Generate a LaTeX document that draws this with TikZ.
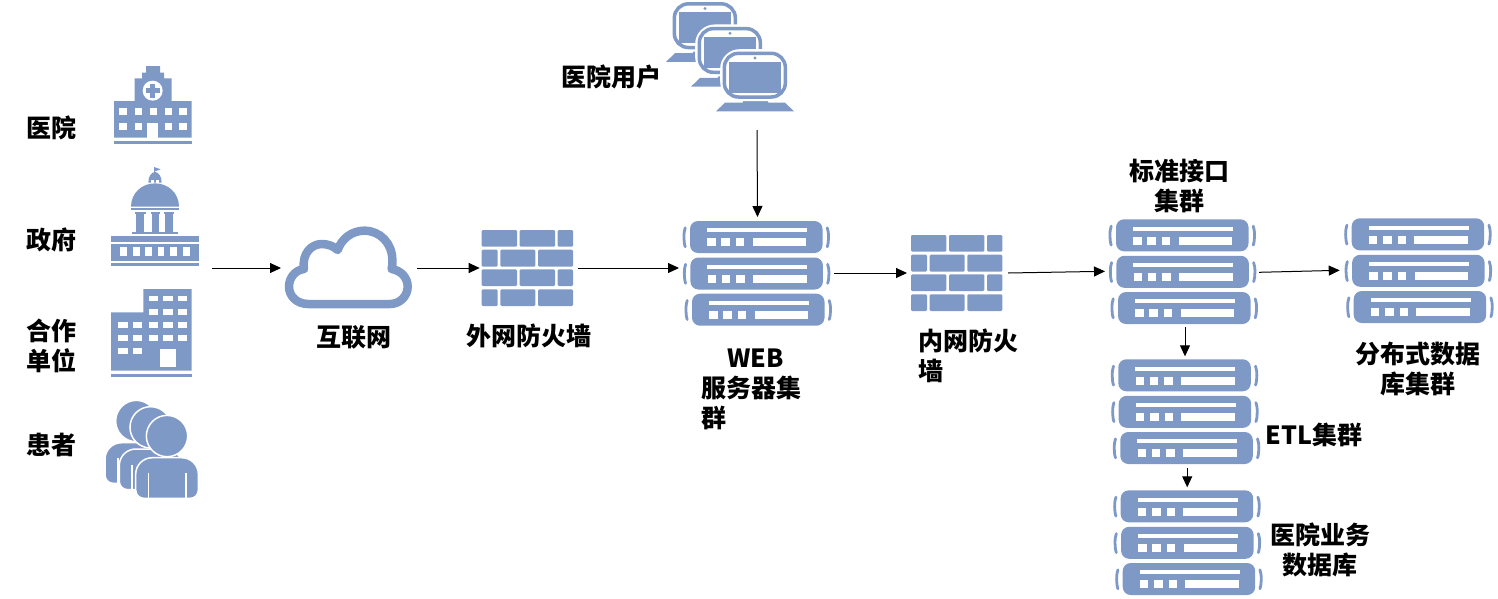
\documentclass[tikz,border=0pt]{standalone}
\usepackage{fontspec}
\setmainfont{Noto Sans CJK SC}
\usetikzlibrary{arrows.meta,positioning}
\definecolor{ic}{HTML}{7F99C7}
\tikzset{
  x=1pt,y=-1pt,
  iconbox/.style={inner sep=0pt,outer sep=0pt,anchor=north west},
  arr/.style={draw=black,line width=1pt,-{Triangle[length=11pt,width=10pt]}},
  lab/.style={inner sep=0pt,outer sep=0pt,font=\fontsize{25}{30}\selectfont\bfseries,align=center},
  fw/.style={fill=ic,rounded corners=1.2pt},
  brk/.style={draw=ic,line width=2.8pt,line cap=round},
  serverrow/.pic={
    \fill[ic,rounded corners=8pt] (0,0) rectangle (132.5,32);
    \fill[white] (17,7.3) rectangle (117,11.3);
    \fill[white] (17.3,17.3) rectangle (25.7,25.3);
    \fill[white] (31.3,17.3) rectangle (40,25.3);
    \fill[white] (46,17.3) rectangle (54.3,25.3);
    \fill[white] (62.7,17.3) rectangle (116.3,25.3);
    \draw[brk] (-4.8,6.8) .. controls (-6.5,11) and (-6.5,21) .. (-4.8,25.8);
    \draw[brk] (137.2,6.8) .. controls (139,11) and (139,21) .. (137.2,25.8);
  },
  serverstack/.pic={
    \pic at (0,0) {serverrow};
    \pic at (0.4,36.5) {serverrow};
    \pic at (2,72.7) {serverrow};
  },
  firewall/.pic={
    \begin{scope}[scale=1/3]
    \foreach \a/\b/\c/\d in {0/0/106/50,114/0/220/50,228/0/274/50,
      0/59/48/110,56/59/161/110,169/59/274/110,
      0/118/106/168,114/118/220/168,228/118/274/168,
      0/178/48/228,56/178/161/228,169/178/274/228}
      \fill[fw] (\a,\b) rectangle (\c,\d);
    \end{scope}
  },
  cloudicon/.pic={
    \begin{scope}[scale=1/3]
    \draw[ic,line width=8.5pt,line join=round]
      (100,252) .. controls (65,252) and (42,228) .. (42,200)
      .. controls (42,172) and (62,150) .. (87,147)
      .. controls (80,100) and (110,72) .. (140,72)
      .. controls (158,72) and (175,78) .. (188,90)
      .. controls (200,55) and (232,32) .. (268,32)
      .. controls (315,32) and (352,70) .. (352,120)
      .. controls (352,130) and (352,140) .. (350,147)
      .. controls (378,152) and (398,172) .. (398,200)
      .. controls (398,228) and (375,252) .. (345,252) -- cycle;
    \end{scope}
  },
  hospitalicon/.pic={
    \begin{scope}[scale=1/3]
    \fill[ic] (168,48) -- (210,48) -- (210,68) -- (222,68) -- (222,85) -- (245,85) -- (245,153)
      -- (305,153) -- (305,263) -- (72,263) -- (72,153) -- (134,153) -- (134,85) -- (156,85) -- (156,68) -- (168,68) -- cycle;
    \fill[white] (188,122) circle (30);
    \fill[ic] (180,101) rectangle (196,143);
    \fill[ic] (167,114) rectangle (209,130);
    \foreach \a in {88,134,180,225,268} \fill[white] (\a,173) rectangle +(22,23);
    \foreach \a in {88,134,225,268} \fill[white] (\a,220) rectangle +(22,20);
    \fill[white] (172,220) rectangle (205,263);
    \fill[ic] (72,273) rectangle (305,282);
    \end{scope}
  },
  govicon/.pic={
    \begin{scope}[scale=1/3]
    \fill[ic] (193,352) rectangle (196,370);
    \fill[ic] (195,352) -- (212,358) -- (195,364) -- cycle;
    \fill[ic] (175,398) .. controls (175,378) and (185,366) .. (195,366) .. controls (205,366) and (215,378) .. (215,398) -- cycle;
    \fill[white] (184,389) rectangle (191,398);
    \fill[white] (199,389) rectangle (206,398);
    \fill[ic] (123,470) .. controls (123,430) and (155,400) .. (195,400) .. controls (235,400) and (267,430) .. (267,470) -- cycle;
    \fill[ic] (122,473) rectangle (268,480);
    \foreach \a/\b in {135/167,182/210,222/253} {
      \fill[ic] (\a,487) rectangle (\b,492);
      \fill[ic] (\a+4,490) rectangle (\b-4,546);
    }
    \fill[ic] (125,546) rectangle (265,553);
    \fill[ic] (63,558) rectangle (327,576);
    \fill[ic] (63,583) rectangle (327,632);
    \foreach \a in {91,129,166,203,241,279} \fill[white] (\a,592) rectangle +(20,27);
    \fill[ic] (63,640) rectangle (327,648);
    \end{scope}
  },
  buildingicon/.pic={
    \begin{scope}[scale=1/3]
    \fill[ic] (160,27) -- (305,27) -- (305,272) -- (63,272) -- (63,97) -- (160,97) -- cycle;
    \foreach \a in {177,220,263} \foreach \b in {47,87,126,165} \fill[white] (\a,\b) rectangle +(28,17);
    \foreach \a in {85,128} \foreach \b in {126,165,204} \fill[white] (\a,\b) rectangle +(28,17);
    \fill[white] (211,207) rectangle (257,260);
    \fill[ic] (63,282) rectangle (305,290);
    \end{scope}
  },
  personicon/.pic={
    \begin{scope}[scale=1/3]
    \filldraw[fill=ic,draw=white,line width=1.5pt]
      (0,50) .. controls (0,22) and (22,0) .. (50,0) -- (138,0)
      .. controls (166,0) and (188,22) .. (188,50) -- (188,97)
      .. controls (188,111) and (177,122) .. (163,122) -- (25,122)
      .. controls (11,122) and (0,111) .. (0,97) -- cycle;
    \fill[white] (36,47) rectangle +(5,75);
    \fill[white] (149,47) rectangle +(5,75);
    \filldraw[fill=ic,draw=white,line width=1.5pt] (94,-65) circle (62);
    \end{scope}
  },
  monitoricon/.pic={
    \begin{scope}[scale=1/3]
    \fill[ic] (253,294) -- (320,294) -- (325,308) -- (375,308) -- (402,334) -- (168,334) -- (195,308) -- (248,308) -- cycle;
    \filldraw[fill=white,draw=white,line width=3pt,rounded corners=18pt] (185,152) rectangle (383,299);
    \filldraw[fill=white,draw=ic,line width=3.5pt,rounded corners=14pt] (193,160) rectangle (376,291);
    \fill[ic] (207,185) rectangle (362,278);
    \fill[ic] (285,174) circle (5);
    \end{scope}
  }
}
\begin{document}
\begin{tikzpicture}
\useasboundingbox (0,0) rectangle (1498,598);
% icon frames
\node[iconbox,minimum width=78pt,minimum height=78pt] (hosp) at (114,66) {};
\node[iconbox,minimum width=88pt,minimum height=100pt] (gov) at (111,167) {};
\node[iconbox,minimum width=81pt,minimum height=88pt] (bld) at (111,289) {};
\node[iconbox,minimum width=95pt,minimum height=100pt] (pat) at (104,400) {};
\node[iconbox,minimum width=128pt,minimum height=80pt] (cloud) at (284,227) {};
\node[iconbox,minimum width=92pt,minimum height=76pt] (fwa) at (481.7,230) {};
\node[iconbox,minimum width=147pt,minimum height=106pt] (web) at (683,221) {};
\node[iconbox,minimum width=122pt,minimum height=110pt] (users) at (672,2) {};
\node[iconbox,minimum width=92pt,minimum height=76pt] (fwb) at (911,235) {};
\node[iconbox,minimum width=147pt,minimum height=106pt] (std) at (1109,219.3) {};
\node[iconbox,minimum width=147pt,minimum height=106pt] (dist) at (1344.7,218.3) {};
\node[iconbox,minimum width=147pt,minimum height=106pt] (etl) at (1111.3,359.3) {};
\node[iconbox,minimum width=147pt,minimum height=106pt] (hdb) at (1113.7,490.3) {};
\coordinate (src) at (212,268);
% icons
\pic at (90,50) {hospitalicon};
\pic at (90,50) {govicon};
\pic at (90,280) {buildingicon};
\pic at (105,442.7) {personicon};
\pic at (119.3,449) {personicon};
\pic at (135.7,457.7) {personicon};
\pic at (275,220) {cloudicon};
\pic at (fwa.north west) {firewall};
\pic at (fwb.north west) {firewall};
\pic at (610,-49.5) {monitoricon};
\pic at (635,-24.7) {monitoricon};
\pic at (660,0) {monitoricon};
\pic at ([xshift=7pt]web.north west) {serverstack};
\pic at ([xshift=7pt]std.north west) {serverstack};
\pic at ([xshift=7pt]dist.north west) {serverstack};
\pic at ([xshift=7pt]etl.north west) {serverstack};
\pic at ([xshift=7pt]hdb.north west) {serverstack};
% connectors
\draw[arr] (src) -- ([xshift=-3pt,yshift=-1pt]cloud.west);
\draw[arr] ([xshift=5pt,yshift=-1pt]cloud.east) -- ([xshift=-2pt]fwa.west);
\draw[arr] ([xshift=4pt]fwa.east) -- ([xshift=-4pt,yshift=6pt]web.west);
\draw[arr] ([xshift=4pt,yshift=1pt]web.east) -- ([xshift=-4pt]fwb.west);
\draw[arr] ([xshift=5pt]fwb.east) -- ([xshift=-4pt,yshift=1pt]std.west);
\draw[arr] ([xshift=3pt]std.east) -- ([xshift=-5pt,yshift=1pt]dist.west);
\draw[arr] ([xshift=24pt,yshift=-18pt]users.south) -- ([xshift=1pt,yshift=4pt]web.north);
\draw[arr] ([xshift=2.5pt,yshift=-2pt]std.south) -- ([xshift=0.2pt,yshift=3pt]etl.north);
\draw[arr] ([xshift=2.4pt,yshift=-3pt]etl.south) -- ([yshift=3pt]hdb.north);
% labels
\node[lab] (t1) at (51,128) {医院};
\node[lab] (t2) at (51,240) {政府};
\node[lab] (t3) at (51,346) {合作\\单位};
\node[lab] (t4) at (51,445) {患者};
\node[lab] (t5) at (354,337) {互联网};
\node[lab] (t6) at (529,336) {外网防火墙};
\node[lab,align=left] (t7) at (751,389) {\hspace*{26pt}WEB\\服务器集\\群};
\node[lab,align=left] (t8) at (968,356) {内网防火\\墙};
\node[lab] (t9) at (1179,186) {标准接口\\集群};
\node[lab] (t10) at (611,77) {医院用户};
\node[lab] (t11) at (1314,435) {ETL集群};
\node[lab] (t12) at (1320,550) {医院业务\\数据库};
\node[lab] (t13) at (1418,369) {分布式数据\\库集群};
\end{tikzpicture}
\end{document}
